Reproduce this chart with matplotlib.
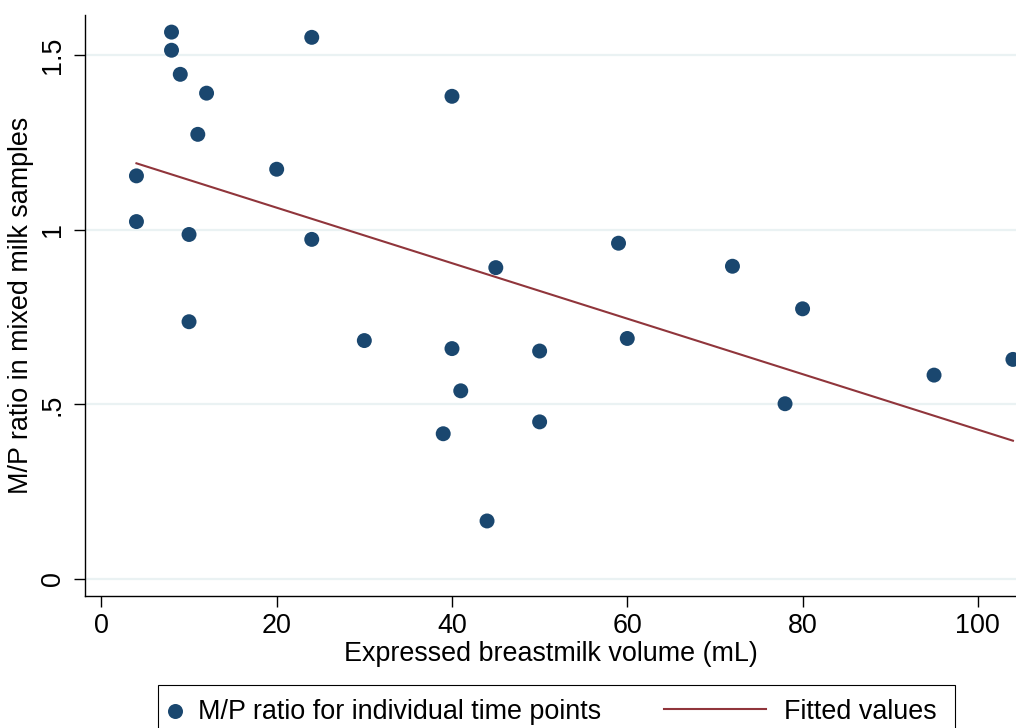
import matplotlib
matplotlib.use("Agg")
import matplotlib.pyplot as plt
from matplotlib.lines import Line2D
from matplotlib.patches import Rectangle

plt.rcParams['font.family'] = ['Liberation Sans', 'DejaVu Sans']

# Data
volume_ml = [4, 4, 8, 8, 9, 12, 11, 10, 10, 20, 24, 24, 30, 40, 40, 39, 41, 44,
             45, 50, 50, 59, 60, 72, 80, 78, 95, 104]
mp_ratio = [1.155, 1.024, 1.567, 1.515, 1.446, 1.392, 1.274, 0.987, 0.737, 1.174,
            1.552, 0.973, 0.683, 1.383, 0.660, 0.416, 0.539, 0.166,
            0.892, 0.653, 0.450, 0.962, 0.689, 0.896, 0.774, 0.502, 0.584, 0.629]
fit_x = [4, 104]
fit_y = [1.191, 0.396]

x_ticks = [0, 20, 40, 60, 80, 100]
x_ticklabels = ['0', '20', '40', '60', '80', '100']
y_ticks = [0, 0.5, 1, 1.5]
y_ticklabels = ['0', '.5', '1', '1.5']

legend_labels = ['M/P ratio for individual time points', 'Fitted values']

navy = '#1a476f'
maroon = '#90353b'
FS = 19.4

W, H = 1016, 728
fig = plt.figure(figsize=(W / 100, H / 100), dpi=100)
ax = fig.add_axes([85 / W, 1 - 596 / H, 1 - 85 / W, (596 - 15) / H])

for yt in y_ticks:
    ax.axhline(yt, color='#eaf2f3', lw=1.6, zorder=0)

ax.scatter(volume_ml, mp_ratio, s=116, color=navy, edgecolors='none', zorder=3)
ax.plot(fit_x, fit_y, color=maroon, lw=1.5, zorder=2)

ax.set_xlim(-1.87, 104.35)
ax.set_ylim(-0.049, 1.616)

ax.set_xticks(x_ticks)
ax.set_xticklabels(x_ticklabels)
ax.set_yticks(y_ticks)
ax.set_yticklabels(y_ticklabels, rotation=90, va='center')

for s in ['top', 'right']:
    ax.spines[s].set_visible(False)
for s in ['left', 'bottom']:
    ax.spines[s].set_linewidth(1.0)
    ax.spines[s].set_color('black')

ax.tick_params(axis='both', length=8, width=1.0, labelsize=FS)
ax.tick_params(axis='x', pad=4)
ax.tick_params(axis='y', pad=6)
ax.set_xlabel('Expressed breastmilk volume (mL)', fontsize=FS, labelpad=2)
ax.set_ylabel('M/P ratio in mixed milk samples', fontsize=FS, labelpad=4)

# Legend box (Stata style, clipped at the bottom edge of the figure)
def fx(px):
    return px / W

def fy(py):
    return 1 - py / H

tf = fig.transFigure
fig.patches.append(Rectangle((fx(157.5), fy(745)), fx(955) - fx(157.5), fy(684.7) - fy(745),
                             transform=tf, facecolor='white', edgecolor='black', lw=0.8))
fig.lines.append(Line2D([fx(175)], [fy(710.7)], marker='o', markersize=10.8, color=navy,
                        markeredgewidth=0, linestyle='none', transform=tf))
fig.text(fx(198), fy(719), legend_labels[0], fontsize=FS, ha='left', va='baseline')
fig.lines.append(Line2D([fx(664), fx(766)], [fy(709), fy(709)], color=maroon, lw=1.5,
                        transform=tf))
fig.text(fx(784), fy(719), legend_labels[1], fontsize=FS, ha='left', va='baseline')

fig.savefig('out.png', dpi=100)
